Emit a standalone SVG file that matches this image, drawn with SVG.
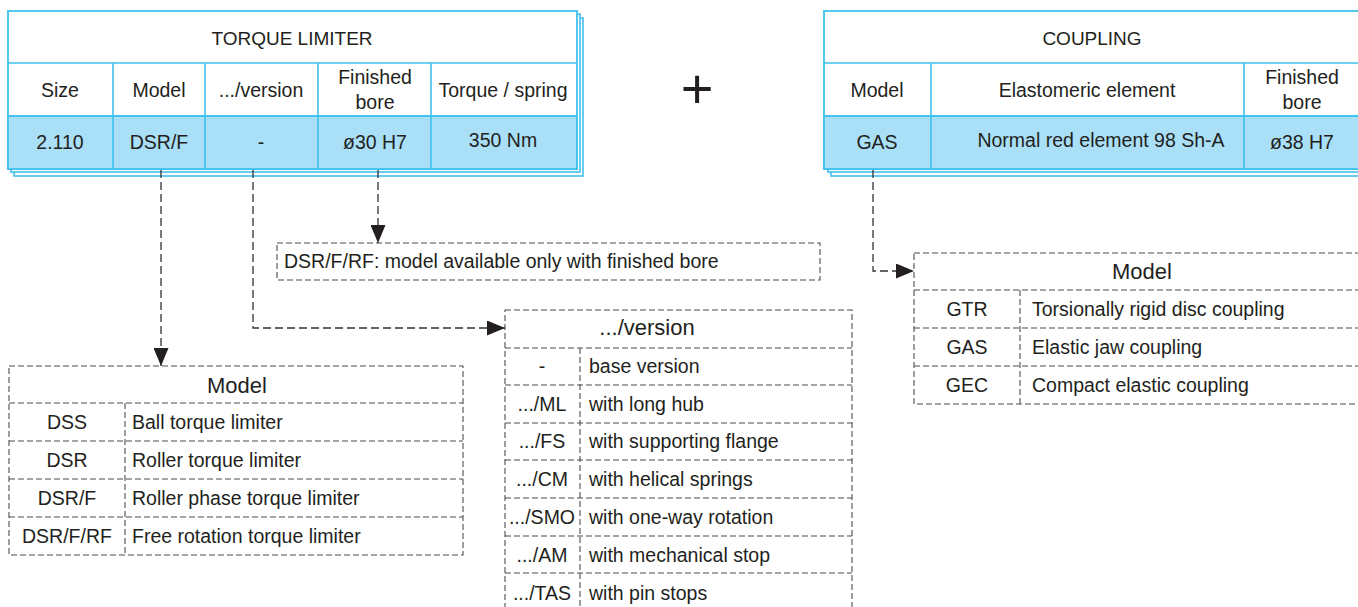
<svg xmlns="http://www.w3.org/2000/svg" width="1358" height="607" viewBox="0 0 1358 607">
<style>
text{font-family:"Liberation Sans",Arial,sans-serif;fill:#231f20;font-size:19.5px}
.c{text-anchor:middle}
.t{font-size:19px}
.h{font-size:22px}
.sh{fill:#ffffff;stroke:#40c1ee;stroke-width:1.6}
.tb{fill:#ffffff;stroke:#40c1ee;stroke-width:1.8}
.hl{fill:#a9e0f8;stroke:#40c1ee;stroke-width:1.8}
.ln{stroke:#40c1ee;stroke-width:1.6;fill:none}
.db{fill:none;stroke:#4d4d4d;stroke-width:1.1;stroke-dasharray:6 3}
.con{fill:none;stroke:#333333;stroke-width:1.3;stroke-dasharray:8 4}
</style>
<defs>
<marker id="ah" viewBox="0 0 18 15" refX="18" refY="7.5" markerWidth="18" markerHeight="15" markerUnits="userSpaceOnUse" orient="auto">
<path d="M0,0 L18,7.5 L0,15 Z" fill="#231f20"/>
</marker>
</defs>
<rect width="1358" height="607" fill="#ffffff"/>

<g id="torque-limiter">
<rect class="sh" x="14" y="18" width="569" height="158"/>
<rect class="sh" x="11" y="14" width="569" height="158"/>
<rect class="tb" x="8" y="11" width="569" height="158"/>
<rect class="hl" x="8" y="116" width="569" height="53"/>
<path class="ln" d="M8,63 H577 M8,116 H577 M113,63 V169 M205,63 V169 M318,63 V169 M431,63 V169"/>
<text class="c t" x="292" y="45">TORQUE LIMITER</text>
<text class="c" x="60" y="97">Size</text>
<text class="c" x="159" y="97">Model</text>
<text class="c" x="261" y="97">.../version</text>
<text class="c" x="375" y="84">Finished</text>
<text class="c" x="375" y="109">bore</text>
<text class="c" x="503" y="97">Torque / spring</text>
<text class="c" x="60" y="149">2.110</text>
<text class="c" x="159" y="149">DSR/F</text>
<text class="c" x="261" y="149">-</text>
<text class="c" x="375" y="149">ø30 H7</text>
<text class="c" x="503" y="147">350 Nm</text>
</g>

<g id="plus">
<text class="c" x="697" y="108" style="font-size:56px">+</text>
</g>

<g id="coupling">
<rect class="sh" x="831" y="18" width="560" height="158"/>
<rect class="sh" x="828" y="14" width="560" height="158"/>
<rect class="tb" x="824" y="11" width="560" height="158"/>
<rect class="hl" x="824" y="116" width="560" height="53"/>
<path class="ln" d="M824,63 H1384 M824,116 H1384 M931,63 V169 M1244,63 V169"/>
<text class="c t" x="1092" y="45">COUPLING</text>
<text class="c" x="877" y="97">Model</text>
<text class="c" x="1087" y="97">Elastomeric element</text>
<text class="c" x="1302" y="84">Finished</text>
<text class="c" x="1302" y="109">bore</text>
<text class="c" x="877" y="149">GAS</text>
<text class="c" x="1101" y="147">Normal red element 98 Sh-A</text>
<text class="c" x="1302" y="149">ø38 H7</text>
</g>

<g id="note">
<rect class="db" x="277" y="243" width="543" height="37"/>
<text x="284" y="268">DSR/F/RF: model available only with finished bore</text>
</g>

<g id="model-list">
<rect class="db" x="9" y="366" width="454" height="189"/>
<path class="db" d="M9,403 H463 M9,441 H463 M9,479 H463 M9,517 H463 M125,403 V555"/>
<text class="c h" x="237" y="393">Model</text>
<text class="c" x="67" y="429">DSS</text>
<text x="132" y="429">Ball torque limiter</text>
<text class="c" x="67" y="467">DSR</text>
<text x="132" y="467">Roller torque limiter</text>
<text class="c" x="67" y="505">DSR/F</text>
<text x="132" y="505">Roller phase torque limiter</text>
<text class="c" x="67" y="543">DSR/F/RF</text>
<text x="132" y="543">Free rotation torque limiter</text>
</g>

<g id="version-list">
<rect class="db" x="505" y="310" width="347" height="302"/>
<path class="db" d="M505,348 H852 M505,385 H852 M505,423 H852 M505,460 H852 M505,498 H852 M505,536 H852 M505,573 H852 M580,348 V612"/>
<text class="c h" x="647" y="335">.../version</text>
<text class="c" x="542" y="373">-</text>
<text x="589" y="373">base version</text>
<text class="c" x="542" y="411">.../ML</text>
<text x="589" y="411">with long hub</text>
<text class="c" x="542" y="448">.../FS</text>
<text x="589" y="448">with supporting flange</text>
<text class="c" x="542" y="486">.../CM</text>
<text x="589" y="486">with helical springs</text>
<text class="c" x="542" y="524">.../SMO</text>
<text x="589" y="524">with one-way rotation</text>
<text class="c" x="542" y="562">.../AM</text>
<text x="589" y="562">with mechanical stop</text>
<text class="c" x="542" y="600">.../TAS</text>
<text x="589" y="600">with pin stops</text>
</g>

<g id="coupling-model-list">
<rect class="db" x="914" y="253" width="460" height="151"/>
<path class="db" d="M914,290 H1374 M914,328 H1374 M914,366 H1374 M1020,290 V404"/>
<text class="c h" x="1142" y="279">Model</text>
<text class="c" x="967" y="316">GTR</text>
<text x="1032" y="316">Torsionally rigid disc coupling</text>
<text class="c" x="967" y="354">GAS</text>
<text x="1032" y="354">Elastic jaw coupling</text>
<text class="c" x="967" y="392">GEC</text>
<text x="1032" y="392">Compact elastic coupling</text>
</g>

<g id="connectors">
<path class="con" d="M161,170 V366" marker-end="url(#ah)"/>
<path class="con" d="M253,170 V328 H505" marker-end="url(#ah)"/>
<path class="con" d="M378,170 V243" marker-end="url(#ah)"/>
<path class="con" d="M873,170 V271 H914" marker-end="url(#ah)"/>
</g>
</svg>
